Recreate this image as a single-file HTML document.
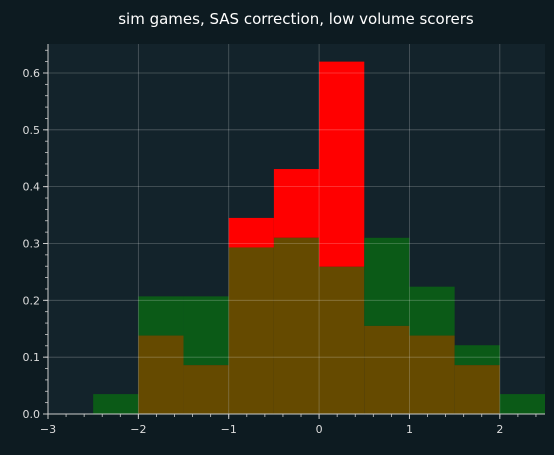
<!DOCTYPE html>
<html><head><meta charset="utf-8"><style>
html,body{margin:0;padding:0;background:#0d1b21;}
svg{display:block;font-family:"DejaVu Sans","Liberation Sans",sans-serif;}
</style></head><body>
<svg id="chart" width="554" height="455">
<rect width="554" height="455" fill="#0d1b21"/>
<text x="296" y="24" fill="#ffffff" font-size="15" text-anchor="middle">sim games, SAS correction, low volume scorers</text>
<rect x="48" y="44" width="497" height="370" fill="#13232b"/>
<g id="bars"></g><g id="grid"></g><g id="axes"></g>
</svg>
<script>
const binEdges = [-2.5,-2,-1.5,-1,-0.5,0,0.5,1,1.5,2,2.5];
const greenValues = [0.035,0.207,0.207,0.293,0.31,0.259,0.31,0.224,0.121,0.035];
const redValues = [0,0.138,0.086,0.345,0.431,0.62,0.155,0.138,0.086,0];
const xTicks = [-3,-2,-1,0,1,2];
const yTicks = [0,0.1,0.2,0.3,0.4,0.5,0.6];

const NS="http://www.w3.org/2000/svg";
const L=48,R=545,T=44,B=414,xmin=-3,xmax=2.5,ymax=0.651;
const xs=v=>L+(v-xmin)/(xmax-xmin)*(R-L);
const ys=v=>B-v/ymax*(B-T);
function mk(tag,attrs,parent){const e=document.createElementNS(NS,tag);for(const k in attrs)e.setAttribute(k,attrs[k]);parent.appendChild(e);return e;}
const grid=document.getElementById('grid'),bars=document.getElementById('bars'),axes=document.getElementById('axes');
xTicks.forEach(t=>{const x=xs(t);
 const g=mk('line',{x1:x,x2:x,y1:T,y2:B,stroke:'#ffffff','stroke-opacity':0.25,'stroke-width':0.8},grid);
 
 
 const tk=mk('line',{x1:x,x2:x,y1:B,y2:B+5,stroke:'#ccc'},axes);
 
 
 const tx=mk('text',{x:x,y:B+19,fill:'#ddd','font-size':11,'text-anchor':'middle'},axes);
 tx.textContent=(t<0?'\u2212'+(-t):t);
 
 
});
for(let v=-3;v<=2.5001;v+=0.2){const x=xs(v);
 const m=mk('line',{x1:x,x2:x,y1:B,y2:B+3,stroke:'#ccc','stroke-width':0.8},axes);
 
 }
yTicks.forEach(t=>{const y=ys(t);
 const g=mk('line',{x1:L,x2:R,y1:y,y2:y,stroke:'#ffffff','stroke-opacity':0.25,'stroke-width':0.8},grid);
 
 
 const tk=mk('line',{x1:L-5,x2:L,y1:y,y2:y,stroke:'#ccc'},axes);
 
 
 const tx=mk('text',{x:L-8,y:y+4,fill:'#ddd','font-size':11,'text-anchor':'end'},axes);
 tx.textContent=t.toFixed(1);
 
 
});
for(let v=0;v<=0.65;v+=0.02){const y=ys(v);
 const m=mk('line',{x1:L-3,x2:L,y1:y,y2:y,stroke:'#ccc','stroke-width':0.8},axes);
 
 }
for(let i=0;i<greenValues.length;i++){
 const x0=xs(binEdges[i]),x1=xs(binEdges[i+1]),g=greenValues[i],r=redValues[i];
 const lo=Math.min(g,r),hi=Math.max(g,r);
 if(hi>lo){const e=mk('rect',{x:x0,y:ys(hi),width:x1-x0,height:ys(lo)-ys(hi),fill:g>r?'#0b5a17':'#ff0000'},bars);
  
  }
 if(lo>0){const e=mk('rect',{x:x0,y:ys(lo),width:x1-x0,height:B-ys(lo),fill:'#654a00'},bars);
  
  }
}
const ax=mk('line',{x1:L,x2:L,y1:T,y2:B,stroke:'#ccc'},axes);


const bx=mk('line',{x1:L,x2:R,y1:B,y2:B,stroke:'#ccc'},axes);


</script>
</body></html>
